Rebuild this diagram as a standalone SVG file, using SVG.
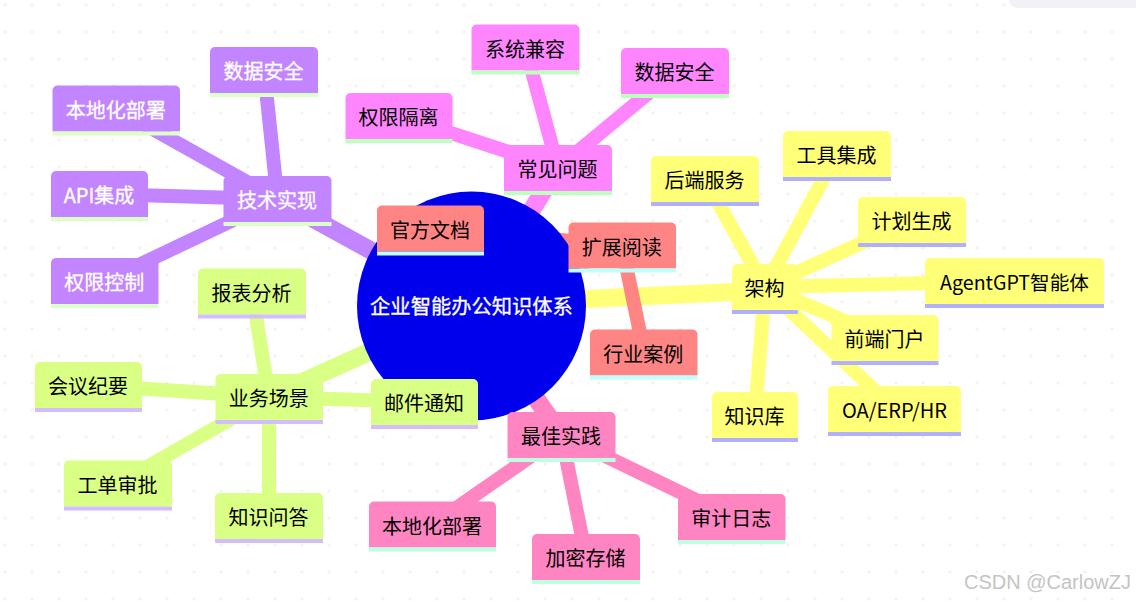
<svg xmlns="http://www.w3.org/2000/svg" width="1136" height="602" viewBox="0 0 1136 602">
<style>
text{font-family:"Noto Sans CJK SC","Noto Sans",sans-serif;font-size:20px;text-anchor:middle;fill:#000}
.e{fill:none;stroke-linecap:round}
.m{stroke-width:18}.c{stroke-width:14}
.s0 path{fill:#c285ff}.s0 rect{fill:#dcffc7}.s0 text{fill:#fff;stroke:#fff;stroke-width:.3px}
.s1 path{fill:#ff85ff}.s1 rect{fill:#bdffbd}
.s2 path{fill:#ff8585}.s2 rect{fill:#bfffff}
.s3 path{fill:#ffff78}.s3 rect{fill:#b0b0ff}
.s4 path{fill:#ff85c2}.s4 rect{fill:#bdffe0}
.s5 path{fill:#d9ff85}.s5 rect{fill:#d4bdff}
.l0{stroke:#c285ff}.l1{stroke:#ff85ff}.l2{stroke:#ff8585}.l3{stroke:#ffff78}.l4{stroke:#ff85c2}.l5{stroke:#d9ff85}
</style>
<defs><pattern id="dots" width="27" height="27" patternUnits="userSpaceOnUse" x="3.5" y="3.5"><rect width="3" height="3" fill="#f2f2f2"/></pattern></defs>
<rect width="1136" height="602" fill="#fff"/>
<rect width="1136" height="602" fill="url(#dots)"/>
<path d="M1009 0h127v8H1018a9 8 0 0 1-9-8z" fill="#f1f2f7"/>
<g id="connectors">
<line class="e c l2" x1="430.5" y1="228.5" x2="622" y2="245.500"/>
<line class="e m l0" x1="471.5" y1="306" x2="277.5" y2="199"/>
<line class="e m l1" x1="471.5" y1="306" x2="558" y2="168"/>
<line class="e m l2" x1="471.5" y1="306" x2="622" y2="245.5"/>
<line class="e m l3" x1="471.5" y1="304.500" x2="765" y2="290.500"/>
<line class="e m l4" x1="471.5" y1="306" x2="561.5" y2="435"/>
<line class="e m l5" x1="471.5" y1="306" x2="269" y2="397"/>
<line class="e c l0" x1="277.5" y1="199" x2="264" y2="70"/>
<line class="e c l0" x1="277.5" y1="199" x2="116" y2="108.5"/>
<line class="e c l0" x1="277.5" y1="199" x2="99.5" y2="194"/>
<line class="e c l0" x1="277.5" y1="199" x2="105" y2="281"/>
<line class="e c l1" x1="558" y1="168" x2="399" y2="116"/>
<line class="e c l1" x1="558" y1="168" x2="525.5" y2="47.5"/>
<line class="e c l1" x1="558" y1="168" x2="675" y2="71"/>
<line class="e c l2" x1="622" y1="245.5" x2="644" y2="352.5"/>
<line class="e c l3" x1="765" y1="287" x2="705" y2="179"/>
<line class="e c l3" x1="765" y1="287" x2="837" y2="154"/>
<line class="e c l3" x1="765" y1="287" x2="912" y2="220"/>
<line class="e c l3" x1="765" y1="287" x2="1014.5" y2="281"/>
<line class="e c l3" x1="765" y1="287" x2="885" y2="338"/>
<line class="e c l3" x1="765" y1="287" x2="894.5" y2="409"/>
<line class="e c l3" x1="765" y1="287" x2="755" y2="415"/>
<line class="e c l4" x1="561.5" y1="435" x2="432.5" y2="524.5"/>
<line class="e c l4" x1="561.5" y1="435" x2="586" y2="557"/>
<line class="e c l4" x1="561.5" y1="435" x2="731.5" y2="517"/>
<line class="e c l5" x1="269" y1="397" x2="252" y2="291.5"/>
<line class="e c l5" x1="269" y1="397" x2="88.5" y2="385"/>
<line class="e c l5" x1="269" y1="397" x2="118" y2="483.5"/>
<line class="e c l5" x1="269" y1="397" x2="269" y2="516"/>
<line class="e c l5" x1="269" y1="397" x2="424.5" y2="402"/>
</g>
<g id="root"><circle cx="471.5" cy="306" r="114.5" fill="#0000ec"/><text x="471.5" y="314" style="fill:#fff;stroke:#fff;stroke-width:.3px;font-size:20.3px">企业智能办公知识体系</text></g>
<g id="n-tech" class="s0"><path d="M223.5 222v-41a5 5 0 0 1 5-5h98a5 5 0 0 1 5 5v41z"/><rect x="223.5" y="222" width="108" height="4"/><text x="277" y="208">技术实现</text></g>
<g id="n-tech-sec" class="s0"><path d="M210 93v-41a5 5 0 0 1 5-5h98a5 5 0 0 1 5 5v41z"/><rect x="210" y="93" width="108" height="4"/><text x="263.5" y="79">数据安全</text></g>
<g id="n-tech-local" class="s0"><path d="M52.500 131.500v-41a5 5 0 0 1 5-5h117.500a5 5 0 0 1 5 5v41z"/><rect x="52.500" y="131.500" width="127.500" height="4"/><text x="115.700" y="117.500">本地化部署</text></g>
<g id="n-tech-api" class="s0"><path d="M51 217v-41a5 5 0 0 1 5-5h87a5 5 0 0 1 5 5v41z"/><rect x="51" y="217" width="97" height="4"/><text x="99" y="203">API集成</text></g>
<g id="n-tech-perm" class="s0"><path d="M51 304v-41a5 5 0 0 1 5-5h97.500a5 5 0 0 1 5 5v41z"/><rect x="51" y="304" width="107.500" height="4"/><text x="104.200" y="290">权限控制</text></g>
<g id="n-faq" class="s1"><path d="M504 191v-41a5 5 0 0 1 5-5h98a5 5 0 0 1 5 5v41z"/><rect x="504" y="191" width="108" height="4"/><text x="557.500" y="177">常见问题</text></g>
<g id="n-faq-perm" class="s1"><path d="M345.500 139v-41a5 5 0 0 1 5-5h97a5 5 0 0 1 5 5v41z"/><rect x="345.500" y="139" width="107" height="4"/><text x="398.500" y="125">权限隔离</text></g>
<g id="n-faq-compat" class="s1"><path d="M471.500 70.500v-41a5 5 0 0 1 5-5h98a5 5 0 0 1 5 5v41z"/><rect x="471.500" y="70.500" width="108" height="4"/><text x="525" y="56.500">系统兼容</text></g>
<g id="n-faq-sec" class="s1"><path d="M621 94v-41a5 5 0 0 1 5-5h98a5 5 0 0 1 5 5v41z"/><rect x="621" y="94" width="108" height="4"/><text x="674.500" y="80">数据安全</text></g>
<g id="n-read" class="s2"><path d="M568.500 268.500v-41a5 5 0 0 1 5-5h97.500a5 5 0 0 1 5 5v41z"/><rect x="568.500" y="268.500" width="107.500" height="4"/><text x="621.700" y="254.500">扩展阅读</text></g>
<g id="n-read-doc" class="s2"><path d="M377 251.500v-41a5 5 0 0 1 5-5h97a5 5 0 0 1 5 5v41z"/><rect x="377" y="251.500" width="107" height="4"/><text x="430" y="237.500">官方文档</text></g>
<g id="n-read-case" class="s2"><path d="M590 375.500v-41a5 5 0 0 1 5-5h97.500a5 5 0 0 1 5 5v41z"/><rect x="590" y="375.500" width="107.500" height="4"/><text x="643.200" y="361.500">行业案例</text></g>
<g id="n-arch" class="s3"><path d="M732 310v-41a5 5 0 0 1 5-5h56a5 5 0 0 1 5 5v41z"/><rect x="732" y="310" width="66" height="4"/><text x="764.500" y="296">架构</text></g>
<g id="n-arch-back" class="s3"><path d="M651 202v-41a5 5 0 0 1 5-5h98a5 5 0 0 1 5 5v41z"/><rect x="651" y="202" width="108" height="4"/><text x="704.500" y="188">后端服务</text></g>
<g id="n-arch-tool" class="s3"><path d="M783 177v-41a5 5 0 0 1 5-5h98a5 5 0 0 1 5 5v41z"/><rect x="783" y="177" width="108" height="4"/><text x="836.500" y="163">工具集成</text></g>
<g id="n-arch-plan" class="s3"><path d="M858 243v-41a5 5 0 0 1 5-5h98a5 5 0 0 1 5 5v41z"/><rect x="858" y="243" width="108" height="4"/><text x="911.500" y="229">计划生成</text></g>
<g id="n-arch-agent" class="s3"><path d="M925 304v-41a5 5 0 0 1 5-5h169a5 5 0 0 1 5 5v41z"/><rect x="925" y="304" width="179" height="4"/><text x="1014.500" y="290" style="font-size:19.6px">AgentGPT智能体</text></g>
<g id="n-arch-front" class="s3"><path d="M831.500 361v-41a5 5 0 0 1 5-5h97a5 5 0 0 1 5 5v41z"/><rect x="831.500" y="361" width="107" height="4"/><text x="884.500" y="347">前端门户</text></g>
<g id="n-arch-oa" class="s3"><path d="M828 432v-41a5 5 0 0 1 5-5h123a5 5 0 0 1 5 5v41z"/><rect x="828" y="432" width="133" height="4"/><text x="894.500" y="418">OA/ERP/HR</text></g>
<g id="n-arch-kb" class="s3"><path d="M712 438v-41a5 5 0 0 1 5-5h76a5 5 0 0 1 5 5v41z"/><rect x="712" y="438" width="86" height="4"/><text x="754.500" y="424">知识库</text></g>
<g id="n-best" class="s4"><path d="M507.500 458v-41a5 5 0 0 1 5-5h98a5 5 0 0 1 5 5v41z"/><rect x="507.500" y="458" width="108" height="4"/><text x="561" y="444">最佳实践</text></g>
<g id="n-best-local" class="s4"><path d="M369 547.500v-41a5 5 0 0 1 5-5h117a5 5 0 0 1 5 5v41z"/><rect x="369" y="547.500" width="127" height="4"/><text x="432" y="533.500">本地化部署</text></g>
<g id="n-best-enc" class="s4"><path d="M532 580v-41a5 5 0 0 1 5-5h98a5 5 0 0 1 5 5v41z"/><rect x="532" y="580" width="108" height="4"/><text x="585.500" y="566">加密存储</text></g>
<g id="n-best-audit" class="s4"><path d="M678 540v-41a5 5 0 0 1 5-5h97.500a5 5 0 0 1 5 5v41z"/><rect x="678" y="540" width="107.500" height="4"/><text x="731.200" y="526">审计日志</text></g>
<g id="n-biz" class="s5"><path d="M215.500 420v-41a5 5 0 0 1 5-5h97.500a5 5 0 0 1 5 5v41z"/><rect x="215.500" y="420" width="107.500" height="4"/><text x="268.700" y="406">业务场景</text></g>
<g id="n-biz-report" class="s5"><path d="M198 314.500v-41a5 5 0 0 1 5-5h98a5 5 0 0 1 5 5v41z"/><rect x="198" y="314.500" width="108" height="4"/><text x="251.500" y="300.500">报表分析</text></g>
<g id="n-biz-meet" class="s5"><path d="M35 408v-41a5 5 0 0 1 5-5h97a5 5 0 0 1 5 5v41z"/><rect x="35" y="408" width="107" height="4"/><text x="88" y="394">会议纪要</text></g>
<g id="n-biz-ticket" class="s5"><path d="M64 506.500v-41a5 5 0 0 1 5-5h98a5 5 0 0 1 5 5v41z"/><rect x="64" y="506.500" width="108" height="4"/><text x="117.500" y="492.500">工单审批</text></g>
<g id="n-biz-qa" class="s5"><path d="M215 539v-41a5 5 0 0 1 5-5h98a5 5 0 0 1 5 5v41z"/><rect x="215" y="539" width="108" height="4"/><text x="268.500" y="525">知识问答</text></g>
<g id="n-biz-mail" class="s5"><path d="M371 425v-41a5 5 0 0 1 5-5h97a5 5 0 0 1 5 5v41z"/><rect x="371" y="425" width="107" height="4"/><text x="424" y="411">邮件通知</text></g>
<text x="1047.500" y="589" style="font-family:'Liberation Sans',sans-serif;font-size:20px;fill:#c4c4c4">CSDN @CarlowZJ</text>
</svg>
